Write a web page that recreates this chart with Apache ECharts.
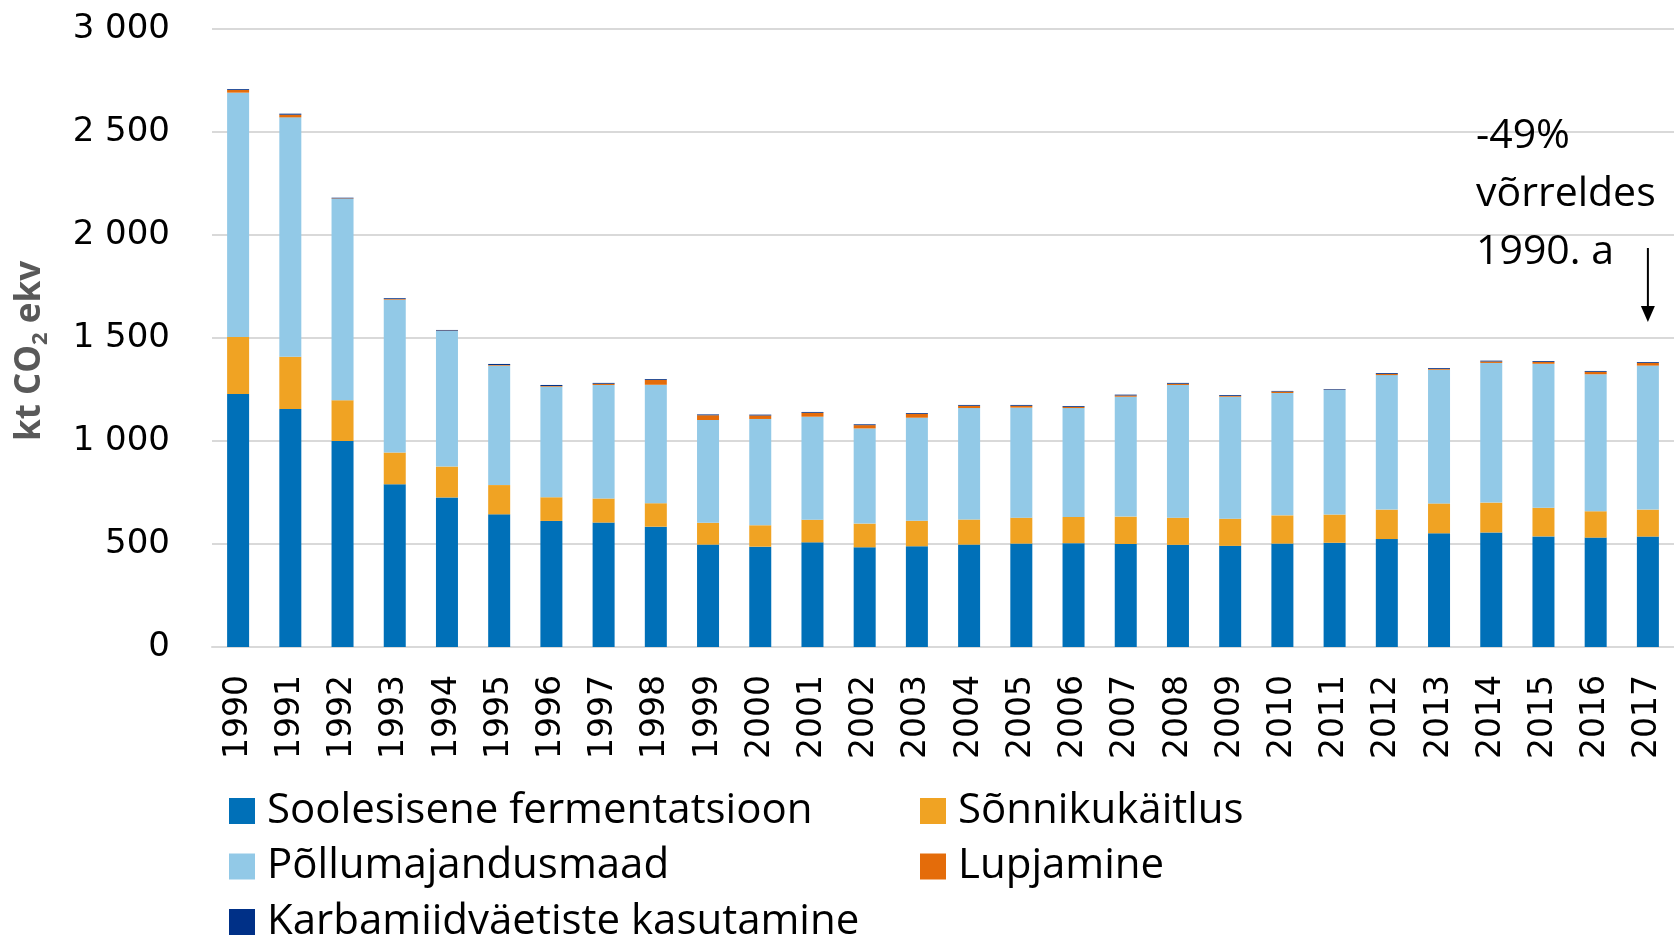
<!DOCTYPE html>
<html>
<head>
<meta charset="utf-8">
<script src="https://cdn.jsdelivr.net/npm/echarts@6/dist/echarts.min.js"></script>
<style>
    html, body { margin: 0; padding: 0; background: #fff; }
    #chart { width: 1674px; height: 939px; }
</style>
</head>
<body>
<div id="chart"></div>
<script>
var years = ['1990', '1991', '1992', '1993', '1994', '1995', '1996', '1997', '1998', '1999',
    '2000', '2001', '2002', '2003', '2004', '2005', '2006', '2007', '2008', '2009',
    '2010', '2011', '2012', '2013', '2014', '2015', '2016', '2017'];

var soolesisene = [1228, 1155, 1000, 790, 726, 644, 612, 604, 584, 497,
    487, 508, 484, 489, 497, 502, 504, 500, 496, 491,
    502, 506, 524, 552, 556, 537, 531, 536];
var sonnik = [277, 254, 198, 154, 150, 142, 115, 117, 114, 106,
    104, 110, 115, 124, 122, 126, 127, 133, 132, 132,
    137, 137, 143, 145, 145, 139, 128, 131];
var pollumaad = [1186, 1162, 978, 742, 658, 580, 537, 551, 575, 499,
    516, 500, 462, 500, 541, 534, 529, 582, 644, 592,
    594, 605, 653, 649, 678, 699, 665, 699];
var lupjamine = [13, 13, 2, 3, 2, 3, 3, 6, 24, 23,
    17, 19, 16, 19, 11, 9, 6, 6, 6, 4,
    7, 1, 6, 4, 7, 9, 12, 13];
var karbamiid = [4, 5, 3, 4, 3, 5, 5, 4, 4, 4,
    4, 4, 4, 4, 4, 4, 4, 4, 4, 4,
    3, 3, 4, 4, 4, 4, 4, 4];

var yTicks = [0, 500, 1000, 1500, 2000, 2500, 3000];
var noteLines = ['-49%', 'võrreldes', '1990. a'];

var chart = echarts.init(document.getElementById('chart'));

function bar(name, data, color) {
    return {
        name: name,
        type: 'bar',
        stack: 'total',
        barWidth: 22,
        data: data,
        itemStyle: { color: color },
        emphasis: { disabled: true }
    };
}

var legendText = {
    fontFamily: 'Open Sans',
    fontSize: 42,
    lineHeight: 44,
    color: '#000',
    padding: [0, 0, 0, 7]
};

var option = {
    animation: false,
    grid: { left: 205, right: 0, top: 29, bottom: 292 },
    legend: [
        {
            orient: 'vertical',
            left: 229,
            top: 789,
            height: 200,
            padding: 0,
            itemWidth: 26,
            itemHeight: 26,
            itemGap: 11.5,
            icon: 'rect',
            selectedMode: false,
            data: ['Soolesisene fermentatsioon', 'Põllumajandusmaad', 'Karbamiidväetiste kasutamine'],
            textStyle: legendText
        },
        {
            orient: 'vertical',
            left: 920,
            top: 789,
            height: 200,
            padding: 0,
            itemWidth: 26,
            itemHeight: 26,
            itemGap: 11.5,
            icon: 'rect',
            selectedMode: false,
            data: ['Sõnnikukäitlus', 'Lupjamine'],
            textStyle: legendText
        }
    ],
    xAxis: {
        type: 'category',
        data: years,
        axisLine: { lineStyle: { color: '#d9d9d9', width: 2 } },
        axisTick: { show: false },
        axisLabel: {
            rotate: 90,
            margin: 28,
            interval: 0,
            fontFamily: 'DejaVu Sans',
            fontSize: 33,
            color: '#000'
        }
    },
    yAxis: {
        type: 'value',
        min: yTicks[0],
        max: yTicks[yTicks.length - 1],
        interval: 500,
        name: 'kt CO{s|2} ekv',
        nameLocation: 'middle',
        nameGap: 160,
        nameTextStyle: {
            fontFamily: 'Open Sans',
            fontWeight: 'bold',
            fontSize: 35,
            lineHeight: 44,
            color: '#595959',
            padding: [0, 26, 0, 0],
            rich: {
                s: {
                    fontFamily: 'Open Sans',
                    fontWeight: 'bold',
                    fontSize: 22,
                    lineHeight: 44,
                    color: '#595959',
                    verticalAlign: 'bottom'
                }
            }
        },
        axisLine: { show: false },
        axisTick: { show: false },
        splitLine: { lineStyle: { color: '#d9d9d9', width: 2 } },
        axisLabel: {
            margin: 42,
            fontFamily: 'DejaVu Sans',
            fontSize: 34,
            color: '#000',
            formatter: function (v) {
                if (v >= 1000) {
                    return Math.floor(v / 1000) + ' ' + String(v % 1000).padStart(3, '0');
                }
                return String(v);
            }
        }
    },
    series: [
        bar('Soolesisene fermentatsioon', soolesisene, '#0070b8'),
        bar('Sõnnikukäitlus', sonnik, '#f0a323'),
        bar('Põllumajandusmaad', pollumaad, '#92c9e7'),
        bar('Lupjamine', lupjamine, '#e46c0a'),
        bar('Karbamiidväetiste kasutamine', karbamiid, '#003087')
    ]
};
chart.setOption(option);

// note + arrow above the last bar
var ax = chart.convertToPixel({ xAxisIndex: 0 }, years[years.length - 1]);
chart.setOption({
    graphic: [
        {
            type: 'text',
            left: 1476,
            top: 107,
            style: {
                text: noteLines.join('\n'),
                fontFamily: 'Open Sans',
                fontSize: 41,
                lineHeight: 58,
                fill: '#000'
            }
        },
        {
            type: 'line',
            shape: { x1: ax, y1: 248, x2: ax, y2: 310 },
            style: { stroke: '#000', lineWidth: 2 }
        },
        {
            type: 'polygon',
            shape: { points: [[ax - 7, 306], [ax + 7, 306], [ax, 322]] },
            style: { fill: '#000' }
        }
    ]
});
</script>
</body>
</html>
